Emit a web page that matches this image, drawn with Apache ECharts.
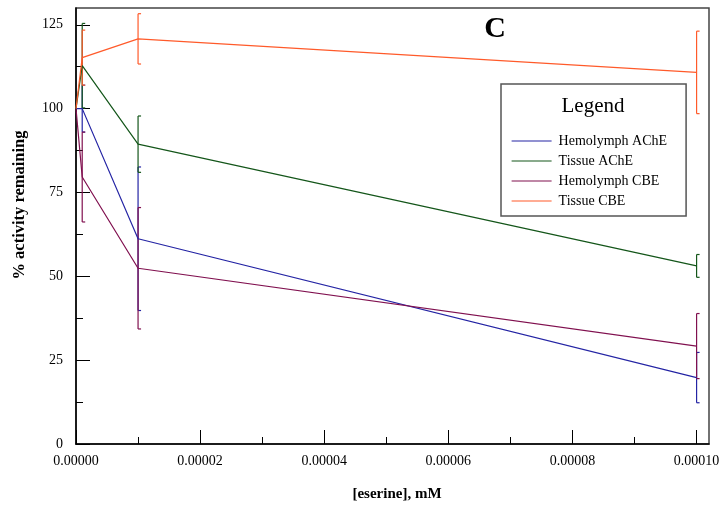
<!DOCTYPE html>
<html>
<head>
<meta charset="utf-8">
<script src="https://cdn.jsdelivr.net/npm/echarts@6/dist/echarts.min.js"></script>
<style>
  html, body { margin: 0; padding: 0; background: #fff; }
  #chart { width: 727px; height: 512px; }
</style>
</head>
<body>
<div id="chart"></div>
<script>
// Eserine concentration (mM)
const concentrations = [0, 0.000001, 0.00001, 0.0001];

// % activity remaining (mean) and error half-widths
const hemolymphAChE = [100, 100, 61.2, 19.8];
const hemolymphAChEErr = [0, 7, 21.4, 7.5];
const tissueAChE = [100, 112.8, 89.4, 53.1];
const tissueAChEErr = [0, 12.6, 8.4, 3.4];
const hemolymphCBE = [100, 79.6, 52.4, 29.2];
const hemolymphCBEErr = [0, 13.4, 18.1, 9.7];
const tissueCBE = [100, 115.2, 120.8, 110.8];
const tissueCBEErr = [0, 8.2, 7.5, 12.3];

const seriesNames = ['Hemolymph AChE', 'Tissue AChE', 'Hemolymph CBE', 'Tissue CBE'];
const seriesColors = ['#2424a4', '#14561a', '#80104f', '#ff5a2a'];

// Axis tick positions
const xMajorTicks = [0, 0.00002, 0.00004, 0.00006, 0.00008, 0.0001];
const xMinorTicks = [0.00001, 0.00003, 0.00005, 0.00007, 0.00009];
const yMajorTicks = [0, 25, 50, 75, 100, 125];
const yMinorTicks = [12.5, 37.5, 62.5, 87.5, 112.5];

const means = [hemolymphAChE, tissueAChE, hemolymphCBE, tissueCBE];
const errs = [hemolymphAChEErr, tissueAChEErr, hemolymphCBEErr, tissueCBEErr];

const FONT = 'Liberation Serif';

function pairs(ys) {
  return concentrations.map((x, i) => [x, ys[i]]);
}

function errorBarSeries(idx) {
  const rows = concentrations.map((x, i) => [x, means[idx][i], errs[idx][i]]).filter(r => r[2] > 0);
  return {
    type: 'custom',
    name: seriesNames[idx] + ' error',
    data: rows,
    z: 3,
    silent: true,
    renderItem: function (params, api) {
      const x = api.value(0), y = api.value(1), e = api.value(2);
      const top = api.coord([x, y + e]);
      const bot = api.coord([x, y - e]);
      const cap = 3;
      const style = { stroke: seriesColors[idx], lineWidth: 1.2, fill: null };
      return {
        type: 'group',
        children: [
          { type: 'line', shape: { x1: top[0], y1: top[1], x2: bot[0], y2: bot[1] }, style: style },
          { type: 'line', shape: { x1: top[0], y1: top[1], x2: top[0] + cap, y2: top[1] }, style: style },
          { type: 'line', shape: { x1: bot[0], y1: bot[1], x2: bot[0] + cap, y2: bot[1] }, style: style }
        ]
      };
    }
  };
}

const lineSeries = seriesNames.map((name, i) => ({
  type: 'line',
  name: name,
  data: pairs(means[i]),
  symbol: 'none',
  showSymbol: false,
  z: 4,
  lineStyle: { color: seriesColors[i], width: 1.2 },
  itemStyle: { color: seriesColors[i] }
}));

const chart = echarts.init(document.getElementById('chart'));

chart.setOption({
  animation: false,
  backgroundColor: '#ffffff',
  textStyle: { fontFamily: FONT },
  grid: {
    left: 76, top: 8, right: 18, bottom: 68,
    show: true, borderColor: '#444', borderWidth: 1.5,
    containLabel: false
  },
  xAxis: [
    {
      type: 'value', min: 0, max: 0.000102, position: 'bottom',
      axisLine: { show: true, lineStyle: { color: '#000', width: 1.5 } },
      axisTick: { show: true, inside: true, length: 14, customValues: xMajorTicks, lineStyle: { color: '#000', width: 1 } },
      axisLabel: {
        customValues: xMajorTicks, margin: 10, color: '#000', fontFamily: FONT, fontSize: 14,
        formatter: v => v.toFixed(5)
      },
      splitLine: { show: false }
    },
    {
      type: 'value', min: 0, max: 0.000102, position: 'bottom', offset: 0,
      axisLine: { show: false },
      axisTick: { show: true, inside: true, length: 7, customValues: xMinorTicks, lineStyle: { color: '#000', width: 1 } },
      axisLabel: { show: false },
      splitLine: { show: false }
    }
  ],
  yAxis: [
    {
      type: 'value', min: 0, max: 130, position: 'left',
      axisLine: { show: true, lineStyle: { color: '#000', width: 1.5 } },
      axisTick: { show: true, inside: true, length: 14, customValues: yMajorTicks, lineStyle: { color: '#000', width: 1 } },
      axisLabel: { customValues: yMajorTicks, margin: 13, color: '#000', fontFamily: FONT, fontSize: 14 },
      splitLine: { show: false }
    },
    {
      type: 'value', min: 0, max: 130, position: 'left', offset: 0,
      axisLine: { show: false },
      axisTick: { show: true, inside: true, length: 7, customValues: yMinorTicks, lineStyle: { color: '#000', width: 1 } },
      axisLabel: { show: false },
      splitLine: { show: false }
    }
  ],
  legend: {
    data: seriesNames,
    orient: 'vertical',
    left: 501, top: 84,
    padding: [50, 19, 8, 10],
    itemWidth: 40, itemHeight: 12, itemGap: 6,
    itemStyle: { opacity: 0 },
    lineStyle: { width: 1.2 },
    borderColor: '#555', borderWidth: 1.5,
    backgroundColor: '#fff',
    textStyle: { fontFamily: FONT, fontSize: 14, color: '#000', padding: [0, 0, 0, 2] }
  },
  graphic: [
    { type: 'text', x: 593, y: 106, z: 100,
      style: { text: 'Legend', font: '21px "Liberation Serif"', fill: '#000', align: 'center', verticalAlign: 'middle' } },
    { type: 'text', x: 495, y: 29, z: 100,
      style: { text: 'C', font: 'bold 30px "Liberation Serif"', fill: '#000', align: 'center', verticalAlign: 'middle' } },
    { type: 'text', x: 397, y: 494, z: 100,
      style: { text: '[eserine], mM', font: 'bold 15px "Liberation Serif"', fill: '#000', align: 'center', verticalAlign: 'middle' } },
    { type: 'text', x: 20, y: 205, rotation: Math.PI / 2, z: 100,
      style: { text: '% activity remaining', font: 'bold 16.5px "Liberation Serif"', fill: '#000', align: 'center', verticalAlign: 'middle' } }
  ],
  series: [
    errorBarSeries(0), errorBarSeries(1), errorBarSeries(2), errorBarSeries(3)
  ].concat(lineSeries)
});
</script>
</body>
</html>
